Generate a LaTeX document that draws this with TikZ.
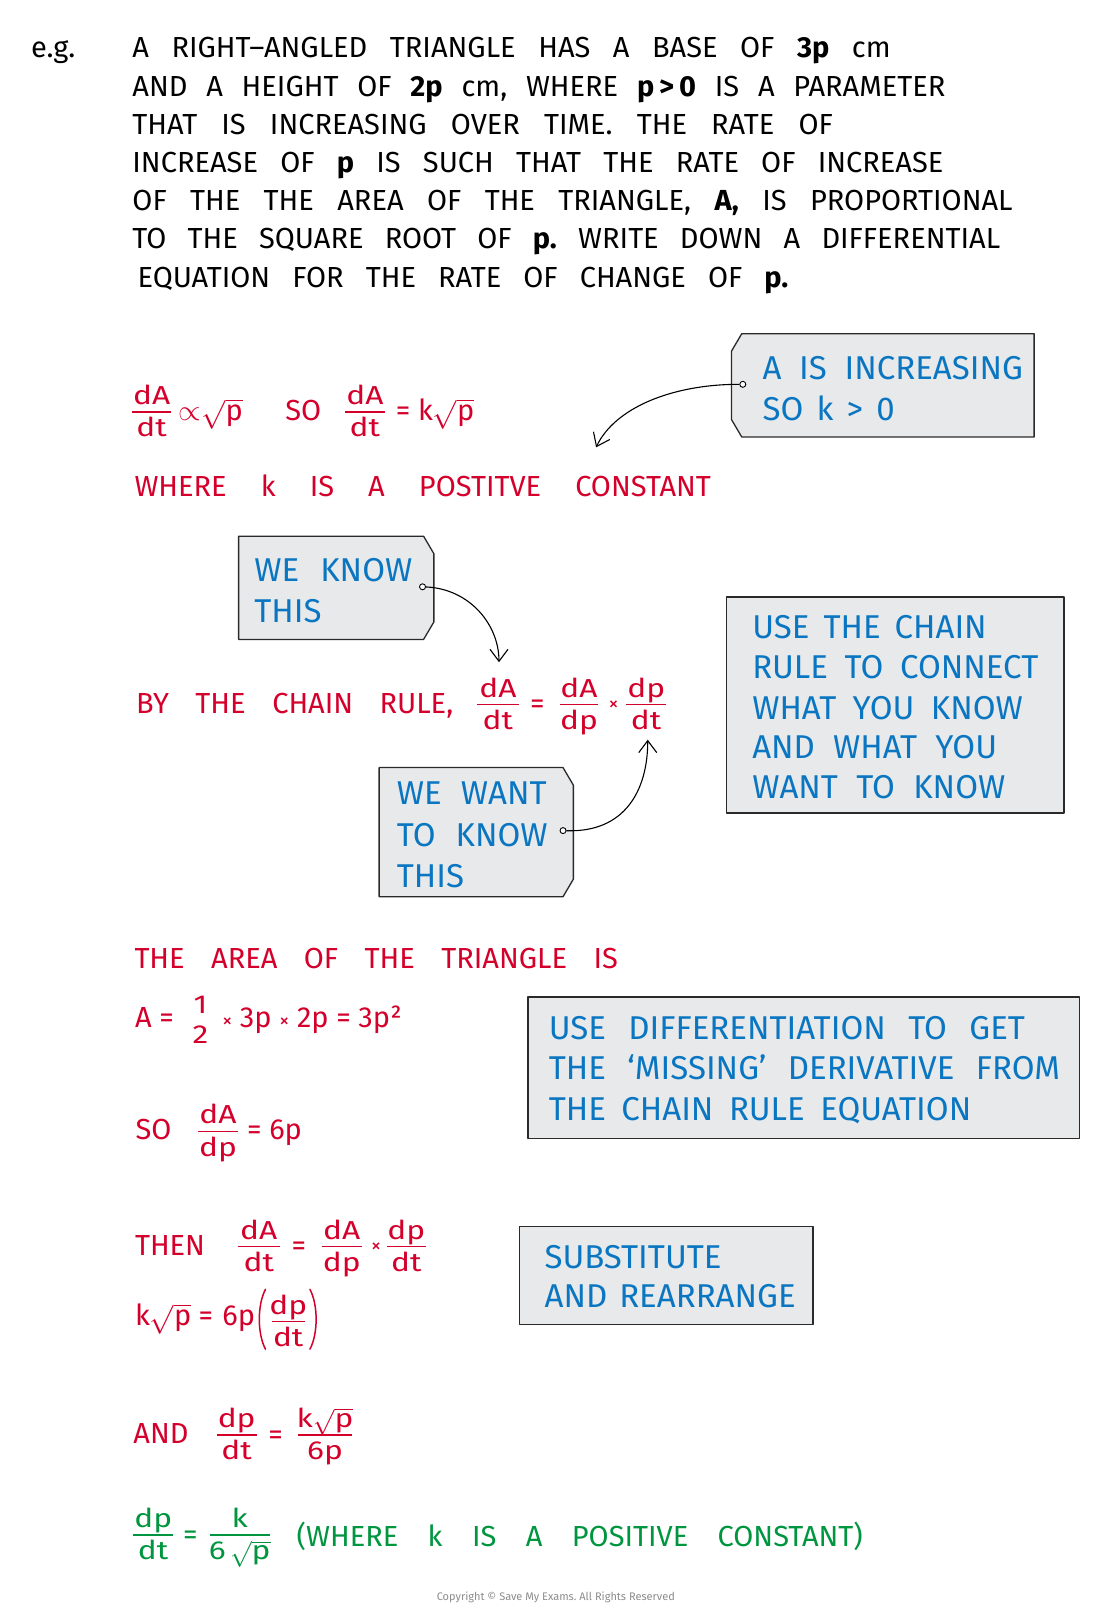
\documentclass[tikz,border=0pt]{standalone}
\usepackage{fix-cm}
\usepackage{amsmath}
\usepackage{fontspec}
\setmainfont{Fira Sans}
\newfontfamily\wideff[FakeStretch=1.22]{Fira Sans}
\usetikzlibrary{arrows.meta}
\definecolor{inkred}{HTML}{D4002B}
\definecolor{inkblue}{HTML}{0A76C2}
\definecolor{inkgreen}{HTML}{00953F}
\definecolor{boxfill}{HTML}{E8E9EA}
\definecolor{boxline}{HTML}{2A2A2A}
\newlength\unitpx \setlength\unitpx{1.0331pt}
\newcommand\sq[1]{$\sqrt{\mbox{#1}}$}
\newcommand\wl[2]{\makebox[#1\unitpx][s]{#2}}
\newcommand\tms{{\fontsize{20}{20}\selectfont ×}}
% fraction: style, name, left x, bar y, bar length, numerator, denominator
\newcommand\frk[7]{%
  \draw[#1bar] (#3,#4) -- (#3+#5,#4);
  \node[#1] (#2n) at (#3+#5/2,#4-7) {#6};
  \node[#1] (#2d) at (#3+#5/2,#4+24) {#7};}
\frenchspacing
\begin{document}
\begin{tikzpicture}[x=1.0331pt,y=-1.0331pt,
  blk/.style={anchor=base west,inner sep=0pt,font=\fontsize{29}{31}\selectfont,text=black},
  rtx/.style={anchor=base west,inner sep=0pt,font=\fontsize{29}{31}\selectfont,text=inkred},
  btx/.style={anchor=base west,inner sep=0pt,font=\fontsize{33}{35}\selectfont,text=inkblue},
  gtx/.style={anchor=base west,inner sep=0pt,font=\fontsize{29}{31}\selectfont,text=inkgreen},
  rf/.style={anchor=base,inner sep=0pt,font=\wideff\fontsize{26}{28}\selectfont,text=inkred},
  rfbar/.style={draw=inkred,line width=1.4pt},
  gf/.style={anchor=base,inner sep=0pt,font=\wideff\fontsize{26}{28}\selectfont,text=inkgreen},
  gfbar/.style={draw=inkgreen,line width=1.4pt},
  paren/.style={draw=inkred,line width=1.5pt,line cap=round},
  tagbox/.style={draw=boxline,fill=boxfill,line width=1.3pt,line join=round},
  ring/.style={circle,draw=black,fill=white,line width=0.9pt,inner sep=0pt,minimum size=6pt},
  conn/.style={line width=1.1pt,-{Straight Barb[length=12pt,width=18pt,line width=1.1pt]}}]
\useasboundingbox (0,0) rectangle (1064.8,1566.2);
\fill[white] (0,0) rectangle (1064.8,1566.2);

% ---- question text
\node[blk] (eg) at (30,56) {e.g.};
\node[blk] (q1) at (128,56) {\wl{734}{A RIGHT–ANGLED TRIANGLE HAS A BASE OF \textbf{3p} cm}};
\node[blk] (q2) at (128,93) {\wl{787}{AND A HEIGHT OF \textbf{2p} cm, WHERE \textbf{p\,>\,0} IS A PARAMETER}};
\node[blk] (q3) at (128,130) {\wl{678}{THAT IS INCREASING OVER TIME. THE RATE OF}};
\node[blk] (q4) at (128,167) {\wl{785}{INCREASE OF \textbf{p} IS SUCH THAT THE RATE OF INCREASE}};
\node[blk] (q5) at (128,204) {\wl{852}{OF THE THE AREA OF THE TRIANGLE, \textbf{A,} IS PROPORTIONAL}};
\node[blk] (q6) at (128,241) {\wl{840}{TO THE SQUARE ROOT OF \textbf{p.} WRITE DOWN A DIFFERENTIAL}};
\node[blk] (q7) at (133,278) {\wl{630}{EQUATION FOR THE RATE OF CHANGE OF \textbf{p.}}};

% ---- proportionality
\frk{rf}{e1a}{127.5}{398.8}{38.5}{dA}{dt}
\node[rtx] (e1b) at (173,407) {$\propto$\sq{p}};
\node[rtx] (e1c) at (276,407) {SO};
\frk{rf}{e1d}{334}{398.8}{38.5}{dA}{dt}
\node[rtx] (e1e) at (383,407) {= k\sq{p}};
\node[rtx] (w1) at (130,481) {\wl{558}{WHERE k IS A POSTITVE CONSTANT}};

% box 1
\draw[tagbox] (718,323) -- (1001,323) -- (1001,423) -- (718,423) -- (708,406) -- (708,340) -- cycle;
\node[btx] (b1a) at (738,367) {\wl{252}{A IS INCREASING}};
\node[btx] (b1b) at (738,407) {\wl{128}{SO k > 0}};
\node[ring] (d1) at (719,372) {};
\coordinate (t1) at (577,433);
\draw[conn] (d1) .. controls (650,372) and (595,395) .. (t1);

% ---- chain rule
\draw[tagbox] (231,519) -- (410,519) -- (420,536) -- (420,602) -- (410,619) -- (231,619) -- cycle;
\node[btx] (b2a) at (246,563) {\wl{153}{WE KNOW}};
\node[btx] (b2b) at (246,603) {THIS};
\node[ring] (d2) at (409,568) {};
\coordinate (t2) at (483,641);
\draw[conn] (d2) .. controls (455,570) and (483,605) .. (t2);

\node[rtx] (c0) at (131.5,691) {\wl{307}{BY THE CHAIN RULE,}};
\frk{rf}{c1}{462}{682}{40}{dA}{dt}
\node[rtx] (c2) at (513,691) {=};
\frk{rf}{c3}{542}{682}{37}{dA}{dp}
\node[rtx] (c4) at (589,688) {\tms};
\frk{rf}{c5}{606}{682}{39}{dp}{dt}

\draw[tagbox] (367,743) -- (545,743) -- (555,760) -- (555,851) -- (545,868) -- (367,868) -- cycle;
\node[btx] (b3a) at (384,779) {\wl{145}{WE WANT}};
\node[btx] (b3b) at (384,819) {\wl{146}{TO KNOW}};
\node[btx] (b3c) at (384,859) {THIS};
\node[ring] (d3) at (545,804) {};
\coordinate (t3) at (627,716);
\draw[conn] (d3) .. controls (605,806) and (627,765) .. (t3);

\draw[tagbox] (703,578) rectangle (1030,787);
\node[btx] (b4a) at (728,618) {\wl{227}{USE THE CHAIN}};
\node[btx] (b4b) at (728,657) {\wl{277}{RULE TO CONNECT}};
\node[btx] (b4c) at (728,696) {\wl{262}{WHAT YOU KNOW}};
\node[btx] (b4d) at (728,734) {\wl{237}{AND WHAT YOU}};
\node[btx] (b4e) at (728,773) {\wl{245}{WANT TO KNOW}};

% ---- area
\node[rtx] (a0) at (130,937) {\wl{468}{THE AREA OF THE TRIANGLE IS}};
\node[rtx] (a1) at (130.5,995) {A =};
\node[rf] (a2n) at (194,981) {1};
\node[rf] (a2d) at (194,1010) {2};
\node[rtx] (a3) at (215,995) {\tms\ 3p \tms\ 2p = 3p²};
\node[rtx] (s0) at (131,1103) {SO};
\frk{rf}{s1}{192}{1095}{38}{dA}{dp}
\node[rtx] (s2) at (239,1103) {= 6p};

\draw[tagbox] (511,965) rectangle (1045,1102);
\node[btx] (b5a) at (531,1006) {\wl{461}{USE DIFFERENTIATION TO GET}};
\node[btx] (b5b) at (531,1045) {\wl{495}{THE ‘MISSING’ DERIVATIVE FROM}};
\node[btx] (b5c) at (531,1085) {\wl{409}{THE CHAIN RULE EQUATION}};

% ---- substitute
\node[rtx] (h0) at (130.5,1215) {THEN};
\frk{rf}{h1}{230}{1206.7}{41}{dA}{dt}
\node[rtx] (h2) at (282,1215.5) {=};
\frk{rf}{h3}{311.5}{1206.7}{38.5}{dA}{dp}
\node[rtx] (h4) at (359,1212) {\tms};
\frk{rf}{h5}{374.5}{1206.7}{37.5}{dp}{dt}

\node[rtx] (k1) at (130.5,1283) {k\sq{p}};
\node[rtx] (k2) at (192,1283) {=};
\node[rtx] (k3) at (215,1283) {6p};
\draw[paren] (257,1248) .. controls (249,1263) and (249,1291) .. (257,1306);
\frk{rf}{k4}{263}{1279.4}{32}{dp}{dt}
\draw[paren] (300,1248) .. controls (308,1263) and (308,1291) .. (300,1306);

\draw[tagbox] (503,1187) rectangle (787,1282);
\node[btx] (b6a) at (527,1228) {SUBSTITUTE};
\node[btx] (b6b) at (527,1266) {\wl{243}{AND REARRANGE}};

\node[rtx] (n0) at (129,1397) {AND};
\frk{rf}{n1}{209.7}{1389}{38.8}{dp}{dt}
\node[rtx] (n2) at (259.5,1398) {=};
\frk{rf}{n3}{288.6}{1389}{52}{k\sq{p}}{6p}

% ---- final
\frk{gf}{g1}{129}{1486}{38.6}{dp}{dt}
\node[gtx] (g2) at (177,1495) {=};
\frk{gf}{g3}{203}{1486}{58}{k}{6\,\sq{p}}
\node[gtx] (g4) at (287,1497) {\wl{548}{(WHERE k IS A POSITIVE CONSTANT)}};

\node[inner sep=0pt,font=\fontsize{11}{12}\selectfont,text=black!45] (copy) at (538,1546) {Copyright © Save My Exams. All Rights Reserved};
\end{tikzpicture}
\end{document}
